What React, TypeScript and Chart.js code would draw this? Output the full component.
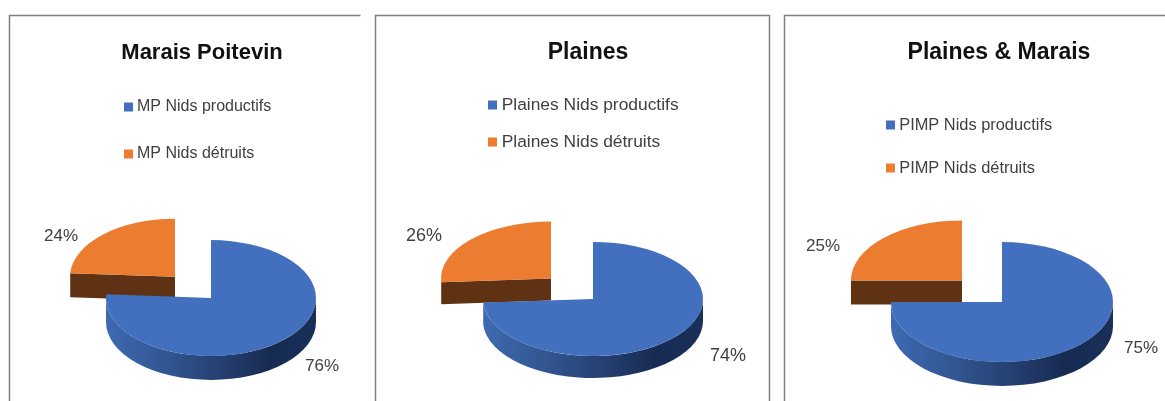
import React, { useEffect, useRef } from "react";
import { Chart, registerables } from "chart.js";

Chart.register(...registerables);

const PANEL_TITLES = ["Marais Poitevin", "Plaines", "Plaines & Marais"];
const MP_LABELS = ["MP Nids productifs", "MP Nids détruits"];
const PL_LABELS = ["Plaines Nids productifs", "Plaines Nids détruits"];
const PIMP_LABELS = ["PIMP Nids productifs", "PIMP Nids détruits"];
const MP_VALUES = [76, 24];
const PL_VALUES = [74, 26];
const PIMP_VALUES = [75, 25];
const SLICE_COLORS = ["#4270be", "#ec7c30"];

const FONT = "'Liberation Sans', Arial, sans-serif";

const PANEL_DATA = [
  { title: PANEL_TITLES[0], labels: MP_LABELS, values: MP_VALUES },
  { title: PANEL_TITLES[1], labels: PL_LABELS, values: PL_VALUES },
  { title: PANEL_TITLES[2], labels: PIMP_LABELS, values: PIMP_VALUES },
];

const PANEL_LAYOUT = [
  {
    frame: [[9, 401, 9, 15, 360, 15]],
    cx: 211, cy: 298, r: 105, sy: 0.552, depth: 24, explode: 52.6,
    titleX: 202, titleY: 53, titleSize: 22,
    legendX: 124, legendY: 106, rowGap: 47, legendSize: 16,
    labelPos: [[322, 366], [61, 236]], labelSize: 17,
  },
  {
    frame: [[375, 401, 375, 15, 769, 15, 769, 401]],
    cx: 593, cy: 299, r: 110, sy: 0.518, depth: 22, explode: 57.6,
    titleX: 588, titleY: 53, titleSize: 23,
    legendX: 488, legendY: 104, rowGap: 37, legendSize: 17.4,
    labelPos: [[728, 356], [424, 236]], labelSize: 18,
  },
  {
    frame: [[784, 401, 784, 15, 1165, 15]],
    cx: 1002, cy: 302, r: 111, sy: 0.54, depth: 24, explode: 56.6,
    titleX: 999, titleY: 53, titleSize: 23,
    legendX: 886, legendY: 124, rowGap: 43, legendSize: 16.4,
    labelPos: [[1141, 348], [823, 246]], labelSize: 17,
  },
];

const pie3d = {
  id: "pie3d",
  afterLayout(chart: any, _a: any, opts: any) {
    const L = opts.layout;
    const { legend, titleBlock } = chart;
    const pad = L.rowGap - L.legendSize;
    const widest = Math.max(...legend.legendHitBoxes.map((b: any) => b.width));
    legend.left = L.legendX + 4 - pad;
    legend.right = legend.left + pad + widest + 6;
    legend.top = L.legendY - L.legendSize / 2 + 1 - pad;
    legend.bottom = legend.top + pad + 2 * L.rowGap + 10;
    titleBlock.left = L.titleX - 150;
    titleBlock.right = L.titleX + 150;
    titleBlock.top = L.titleY - L.titleSize * 0.6;
    titleBlock.bottom = titleBlock.top + L.titleSize * 1.2;
  },
  beforeDatasetDraw(chart: any, _a: any, opts: any) {
    const L = opts.layout;
    const { ctx } = chart;
    const arcs = chart.getDatasetMeta(0).data;
    for (const i of [1, 0]) {
      const arc = arcs[i];
      const { startAngle: s, endAngle: e, outerRadius: r, x, y } = arc;
      const mid = (s + e) / 2;
      const ex = i === 1 ? L.explode : 0;
      const cx = L.cx + Math.cos(mid) * ex;
      const cy = L.cy + Math.sin(mid) * ex * L.sy;
      const ry = r * L.sy;
      let wall: any = "#5e3213";
      if (i === 0) {
        wall = ctx.createLinearGradient(cx - r, 0, cx + r, 0);
        wall.addColorStop(0, "#3f6ab2");
        wall.addColorStop(0.3, "#30558f");
        wall.addColorStop(0.55, "#253f70");
        wall.addColorStop(0.78, "#172b52");
        wall.addColorStop(1, "#1a3059");
      }
      ctx.save();
      ctx.fillStyle = wall;
      const lo = Math.max(s, 0);
      const hi = Math.min(e, Math.PI);
      if (hi > lo) {
        ctx.beginPath();
        ctx.ellipse(cx, cy, r, ry, 0, lo, hi);
        ctx.ellipse(cx, cy + L.depth, r, ry, 0, hi, lo, true);
        ctx.closePath();
        ctx.fill();
      }
      const edges = [
        [s, -Math.cos(s)],
        [e, Math.cos(e)],
      ];
      for (const [a, facing] of edges) {
        if (facing > 0.001) {
          const ox = cx + Math.cos(a) * r;
          const oy = cy + Math.sin(a) * ry;
          ctx.beginPath();
          ctx.moveTo(cx, cy);
          ctx.lineTo(ox, oy);
          ctx.lineTo(ox, oy + L.depth);
          ctx.lineTo(cx, cy + L.depth);
          ctx.closePath();
          ctx.fill();
        }
      }
      ctx.restore();
      ctx.save();
      ctx.translate(cx, cy);
      ctx.scale(1, L.sy);
      ctx.translate(-x, -y);
      arc.draw(ctx);
      ctx.restore();
    }
    return false;
  },
  afterDraw(chart: any, _a: any, opts: any) {
    const L = opts.layout;
    const { ctx } = chart;
    const values = chart.data.datasets[0].data;
    const total = values.reduce((a: number, b: number) => a + b, 0);
    ctx.save();
    ctx.fillStyle = "#404040";
    ctx.font = `${L.labelSize}px ${FONT}`;
    ctx.textAlign = "center";
    ctx.textBaseline = "middle";
    values.forEach((v: number, i: number) => {
      const [px, py] = L.labelPos[i];
      ctx.fillText(`${Math.round((v / total) * 100)}%`, px, py);
    });
    ctx.strokeStyle = "#808080";
    ctx.lineWidth = 1.5;
    for (const f of L.frame) {
      ctx.beginPath();
      ctx.moveTo(f[0] + 0.5, f[1]);
      for (let k = 2; k < f.length; k += 2) ctx.lineTo(f[k] + 0.5, f[k + 1] + 0.5);
      ctx.stroke();
    }
    ctx.restore();
  },
};

function PiePanel({ index }: { index: number }) {
  const ref = useRef<HTMLCanvasElement>(null);
  useEffect(() => {
    const d = PANEL_DATA[index];
    const L = PANEL_LAYOUT[index];
    const chart = new Chart(ref.current as HTMLCanvasElement, {
      type: "pie",
      data: {
        labels: d.labels,
        datasets: [
          {
            data: d.values,
            backgroundColor: SLICE_COLORS,
            borderWidth: 0,
            radius: L.r,
          },
        ],
      },
      plugins: [pie3d],
      options: {
        animation: false,
        responsive: false,
        events: [],
        layout: { padding: 0 },
        plugins: {
          pie3d: { layout: L },
          tooltip: { enabled: false },
          title: {
            display: true,
            text: d.title,
            color: "#111111",
            font: { family: FONT, size: L.titleSize, weight: "bold" },
            padding: 0,
          },
          legend: {
            display: true,
            position: "top",
            align: "start",
            labels: {
              color: "#404040",
              font: { family: FONT, size: L.legendSize },
              usePointStyle: true,
              pointStyle: "rect",
              boxWidth: 1,
              boxHeight: 9,
              padding: L.rowGap - L.legendSize,
            },
          },
        },
      },
    } as any);
    return () => chart.destroy();
  }, [index]);
  return (
    <canvas
      ref={ref}
      width={1165}
      height={401}
      style={{ position: "absolute", left: 0, top: 0, width: 1165, height: 401 }}
    />
  );
}

export default function App() {
  return (
    <div
      style={{
        position: "fixed",
        left: 0,
        top: 0,
        width: 1165,
        height: 401,
        overflow: "hidden",
        background: "#ffffff",
      }}
    >
      {PANEL_DATA.map((_, i) => (
        <PiePanel key={i} index={i} />
      ))}
    </div>
  );
}
